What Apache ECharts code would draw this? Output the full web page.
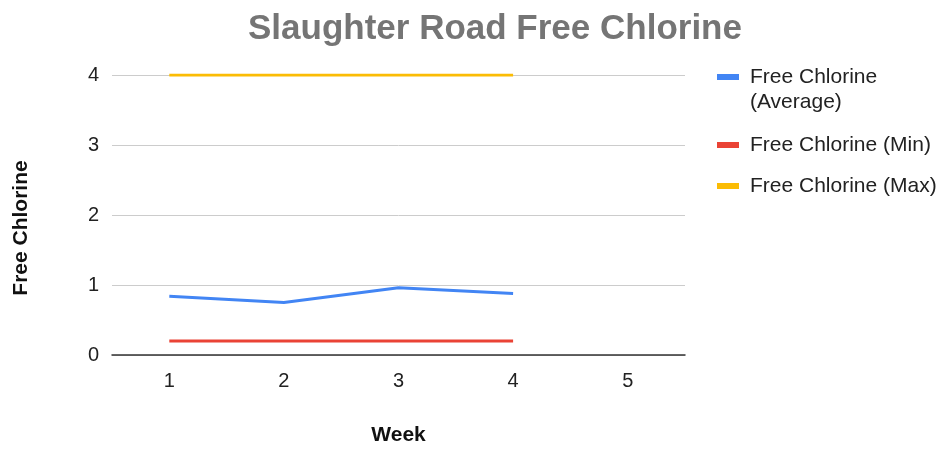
<!DOCTYPE html>
<html><head><meta charset="utf-8">
<script src="https://cdn.jsdelivr.net/npm/echarts@6/dist/echarts.min.js"></script>
<style>html,body{margin:0;padding:0;background:#fff}#c{width:943px;height:451px}</style>
</head><body><div id="c"></div>
<script>
const weeks = ['1','2','3','4','5'];
const avgValues = [0.84, 0.75, 0.96, 0.88, null];
const minValues = [0.2, 0.2, 0.2, 0.2, null];
const maxValues = [4, 4, 4, 4, null];
const seriesNames = ['Free Chlorine (Average)', 'Free Chlorine (Min)', 'Free Chlorine (Max)'];
const colors = ['#4285F4', '#EA4335', '#FBBC04'];
const font = '"Liberation Sans", Arial, sans-serif';

const chart = echarts.init(document.getElementById('c'), null, {renderer: 'canvas'});
const mk = (name, data, color) => ({
  name, type: 'line', data, color, symbol: 'none',
  itemStyle: {color},
  lineStyle: {width: 3, color}, connectNulls: false, animation: false
});
const legTxt = {fontFamily: font, fontSize: 21, color: '#222', lineHeight: 25, padding: [0,0,0,6]};
chart.setOption({
  animation: false,
  title: {text: 'Slaughter Road Free Chlorine', left: 243, top: 7,
    textStyle: {fontFamily: font, fontWeight: 'bold', fontSize: 35, color: '#757575'}},
  grid: {left: 112, right: 258, top: 75, height: 287},
  legend: [
    {orient: 'vertical', left: 712, top: 59.5, itemWidth: 22, itemHeight: 50,
     icon: 'path://M0,0 M0,50 M0,9.5H22V15.5H0Z',
     data: [seriesNames[0]], formatter: () => 'Free Chlorine\n(Average)', textStyle: legTxt},
    {orient: 'vertical', left: 712, top: 127.5, itemWidth: 22, itemHeight: 6, icon: 'rect',
     data: [seriesNames[1]], textStyle: legTxt},
    {orient: 'vertical', left: 712, top: 168.5, itemWidth: 22, itemHeight: 6, icon: 'rect',
     data: [seriesNames[2]], textStyle: legTxt}
  ],
  xAxis: {type: 'category', data: weeks, boundaryGap: true,
    name: 'Week', nameLocation: 'middle', nameGap: 70,
    nameTextStyle: {fontFamily: font, fontWeight: 'bold', fontSize: 21, color: '#111'},
    axisLine: {lineStyle: {color: '#333', width: 1.5}}, axisTick: {show: false},
    axisLabel: {fontFamily: font, fontSize: 20, color: '#222', margin: 16}},
  yAxis: {type: 'value', min: 0, max: 4, interval: 1,
    name: 'Free Chlorine', nameLocation: 'middle', nameGap: 80,
    nameTextStyle: {fontFamily: font, fontWeight: 'bold', fontSize: 21, color: '#111', padding: [0, 26, 0, 0]},
    axisLine: {show: false}, axisTick: {show: false},
    splitLine: {lineStyle: {color: '#ccc', width: 1}},
    axisLabel: {fontFamily: font, fontSize: 20, color: '#222', margin: 13}},
  series: [mk(seriesNames[0], avgValues, colors[0]), mk(seriesNames[1], minValues, colors[1]), mk(seriesNames[2], maxValues, colors[2])]
});
</script></body></html>
